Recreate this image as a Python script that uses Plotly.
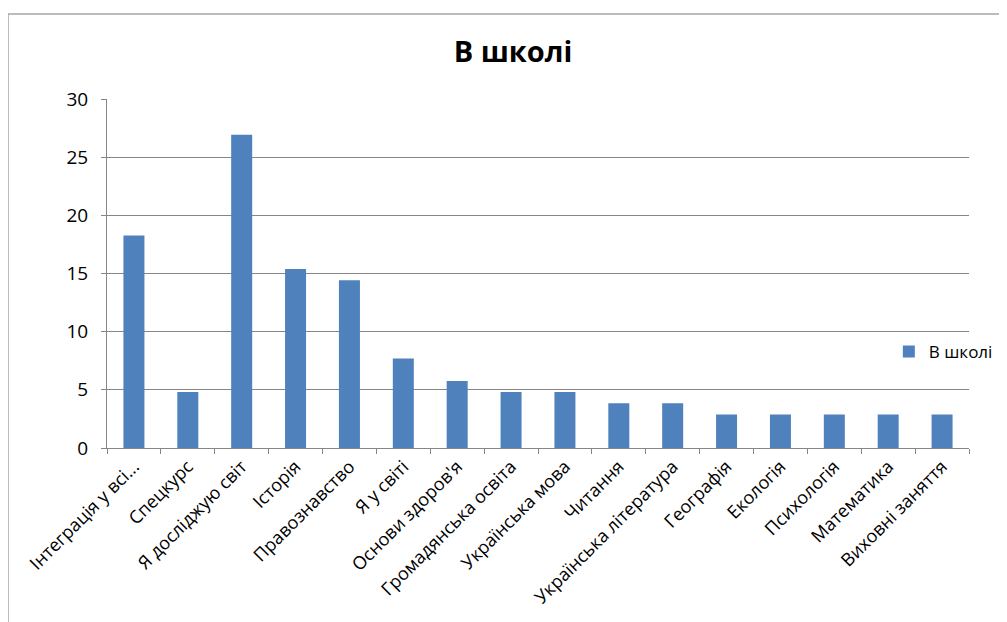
import plotly.graph_objects as go

categories = ["Інтеграція у всі...", "Спецкурс", "Я досліджую світ", "Історія", "Правознавство",
              "Я у світі", "Основи здоров'я", "Громадянська освіта", "Українська мова", "Читання",
              "Українська література", "Географія", "Екологія", "Психологія", "Математика",
              "Виховні заняття"]
values = [18.27, 4.81, 26.92, 15.38, 14.42, 7.69, 5.77, 4.81, 4.81, 3.85, 3.85,
          2.88, 2.88, 2.88, 2.88, 2.88]
series_name = "В школі"
y_ticks = [0, 5, 10, 15, 20, 25, 30]

FONT = "Open Sans"
W, H = 999, 614          # page has an 8px body margin
L, R, T, B = 99, 38, 91, 174
PW, PH = W - L - R, H - T - B

fig = go.Figure()
fig.add_trace(go.Bar(x=categories, y=values, name=series_name,
                     marker=dict(color="#4F81BD", line=dict(width=0)),
                     showlegend=True))

bx = (0 - L) / PW
by = 1 + (T - 6) / PH

fig.update_layout(
    width=W, height=H,
    margin=dict(l=L, r=R, t=T, b=B, autoexpand=False),
    paper_bgcolor="white", plot_bgcolor="white",
    bargap=0.61,
    font=dict(family=FONT, size=17, color="black"),
    title=dict(text="<b>В школі</b>", x=(513 - 8) / W, xref="container", xanchor="center",
               y=1 - (52 - 8) / H, yref="container", yanchor="middle",
               font=dict(family=FONT, size=29, color="black")),
    legend=dict(x=0.907, y=0.275, xanchor="left", yanchor="middle",
                bgcolor="rgba(0,0,0,0)", font=dict(size=17), itemwidth=30),
    xaxis=dict(type="category", tickangle=-45, tickson="boundaries",
               ticks="outside", ticklen=5, tickcolor="#868686",
               showline=True, linecolor="#868686", linewidth=1,
               showgrid=False, tickfont=dict(size=18), automargin=False),
    yaxis=dict(range=[0, 30], tickvals=y_ticks, ticks="outside", ticklen=5,
               tickcolor="#868686", showline=True, linecolor="#868686", linewidth=1,
               showgrid=True, gridcolor="#868686", gridwidth=1, zeroline=False,
               tickfont=dict(size=19), ticklabelstandoff=9, automargin=False),
    shapes=[dict(type="line", xref="paper", yref="paper",
                 x0=bx, x1=bx, y0=by, y1=-0.8,
                 line=dict(color="#A6A6A6", width=1.5)),
            dict(type="line", xref="paper", yref="paper",
                 x0=bx, x1=1.2, y0=by, y1=by,
                 line=dict(color="#A6A6A6", width=1.5))],
)

fig.write_html("out.html")
